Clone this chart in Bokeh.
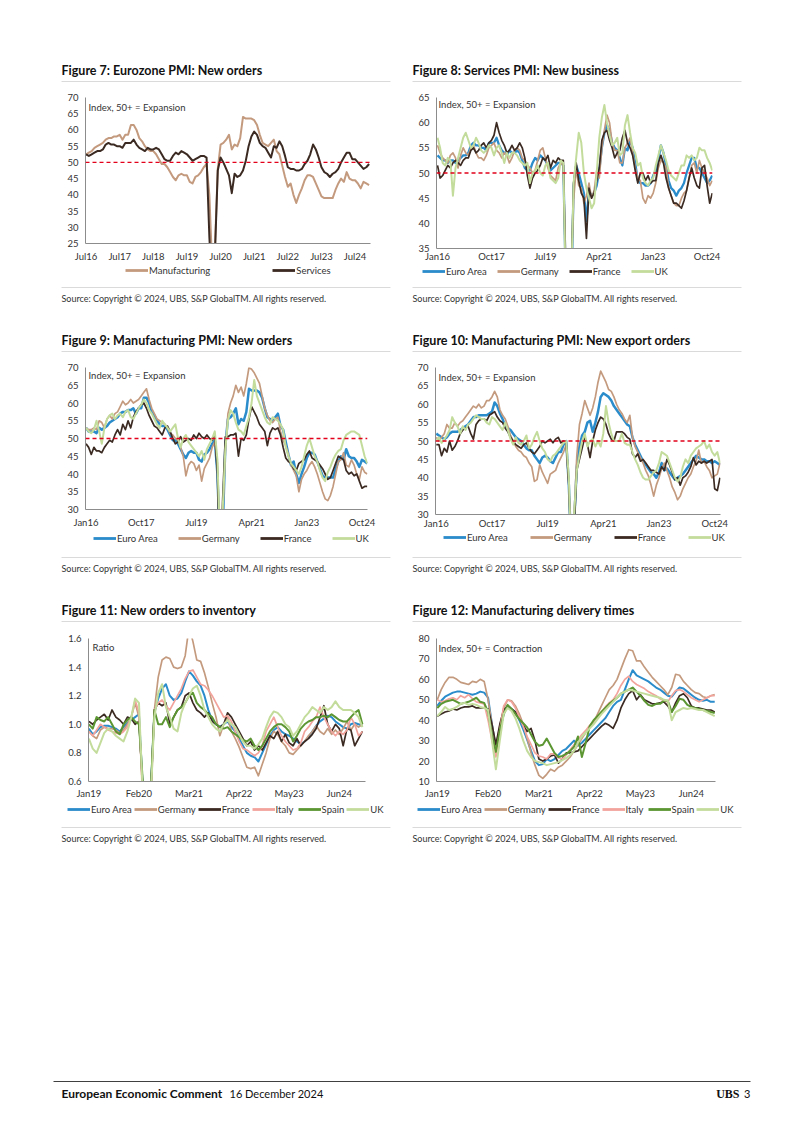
from bokeh.plotting import figure
from bokeh.models import (Range1d, FixedTicker, Span, Legend, LegendItem, Label,
                          NumeralTickFormatter, Spacer)
from bokeh.layouts import column, row
from bokeh.embed import file_html
from bokeh.resources import INLINE
from bokeh.core.properties import value

FONT = "Lato"

# ---------------- tick labels ----------------
fig7_ticks = [0, 12, 24, 36, 48, 60, 72, 84, 96]
fig7_labels = ["Jul16", "Jul17", "Jul18", "Jul19", "Jul20", "Jul21", "Jul22", "Jul23", "Jul24"]
pmi_ticks = [0, 21, 42, 63, 84, 105]
pmi_labels = ["Jan16", "Oct17", "Jul19", "Apr21", "Jan23", "Oct24"]
ratio_ticks = [0, 13, 26, 39, 52, 65]
ratio_labels = ["Jan19", "Feb20", "Mar21", "Apr22", "May23", "Jun24"]

# ---------------- Figure 8: Services PMI new business (Jan16-Dec24) ----------------
svc_ea = [53.5, 53.0, 52.5, 52.5, 52.0, 52.5, 52.5, 52.0, 52.5, 53.0, 53.5, 53.5,
          54.0, 55.5, 56.0, 55.5, 55.5, 55.0, 55.0, 54.5, 56.0, 56.0, 56.0, 57.0,
          55.5, 54.5, 54.0, 53.5, 54.5, 54.0, 54.0, 54.5, 54.0, 52.5, 51.0, 50.5,
          50.5, 52.0, 53.0, 52.5, 53.5, 53.0, 52.5, 51.5, 50.5, 51.0, 51.5, 52.0,
          52.0, 51.5, 27.0, 10.0, 22.0, 47.5, 51.5, 50.0, 48.0, 46.0, 40.5, 46.5,
          45.5, 46.0, 47.5, 50.5, 55.0, 58.0, 59.5, 58.5, 56.0, 55.0, 54.5, 53.0,
          51.5, 55.0, 54.5, 56.5, 55.0, 52.0, 48.5, 48.0, 48.0, 47.5, 47.5, 48.0,
          49.5, 50.5, 52.5, 55.5, 54.0, 51.5, 48.5, 47.0, 46.5, 45.5, 46.5, 47.0,
          48.0, 50.0, 51.5, 53.0, 53.0, 51.0, 51.0, 50.0, 49.0, 48.0, 48.5, 49.5]
svc_de = [55.5, 54.0, 53.0, 52.5, 52.0, 53.5, 54.0, 53.0, 51.0, 53.5, 55.0, 54.0,
          53.5, 55.0, 55.5, 54.0, 53.0, 53.0, 52.5, 53.5, 55.0, 55.5, 56.0, 54.5,
          54.0, 53.0, 54.0, 53.5, 52.0, 53.0, 54.5, 55.0, 54.5, 53.0, 52.5, 51.5,
          51.0, 50.0, 50.5, 52.5, 54.5, 55.0, 53.0, 51.0, 49.5, 49.0, 48.5, 51.0,
          52.0, 51.5, 31.0, 14.0, 28.0, 44.5, 51.0, 47.5, 47.0, 44.0, 45.5, 48.0,
          45.0, 46.5, 50.5, 49.0, 55.0, 58.5, 61.5, 60.0, 56.0, 54.5, 54.5, 52.0,
          52.0, 55.0, 56.0, 57.0, 54.0, 51.0, 49.0, 48.5, 45.0, 44.0, 45.5, 45.0,
          46.0, 48.0, 51.0, 52.5, 52.0, 51.0, 47.0, 45.5, 44.0, 43.5, 43.5, 45.0,
          46.0, 46.5, 49.0, 51.5, 52.0, 50.0, 52.5, 51.0, 50.0, 49.0, 47.5, 48.5]
svc_fr = [51.5, 49.0, 49.5, 50.5, 51.5, 51.0, 52.0, 52.5, 52.0, 51.5, 52.5, 53.0,
          53.0, 54.5, 55.0, 54.0, 54.5, 55.5, 56.0, 55.0, 56.0, 56.5, 57.5, 60.0,
          58.0, 56.5, 55.5, 54.0, 54.5, 55.5, 54.5, 55.0, 56.0, 55.0, 53.0, 49.5,
          47.0, 49.0, 50.0, 50.5, 51.5, 53.0, 52.5, 53.5, 51.0, 52.5, 52.0, 53.0,
          52.5, 52.5, 27.0, 9.0, 28.0, 48.0, 52.0, 48.5, 46.0, 45.0, 37.0, 47.0,
          45.0, 46.0, 48.5, 51.0, 56.5, 58.0, 58.5, 56.5, 55.0, 53.0, 54.0, 54.5,
          57.0, 58.5, 56.0, 55.0, 53.5, 50.5, 48.0, 50.0, 50.0, 48.5, 49.5, 48.0,
          48.5, 48.5, 52.0, 53.5, 52.0, 49.0, 47.0, 45.5, 44.0, 44.0, 43.5, 43.0,
          44.5, 46.5, 49.0, 51.0, 49.0, 47.5, 47.0, 51.0, 51.5, 47.5, 44.0, 46.0]
svc_uk = [57.0, 55.0, 52.0, 51.5, 53.0, 52.5, 45.5, 51.0, 53.0, 55.0, 57.0, 58.0,
          56.5, 55.0, 55.5, 57.0, 56.0, 54.5, 54.0, 54.5, 55.5, 55.0, 53.5, 55.0,
          55.5, 54.0, 52.0, 54.0, 53.0, 54.0, 54.0, 53.5, 52.5, 52.0, 51.5, 52.0,
          48.0, 50.0, 50.5, 51.5, 50.0, 49.5, 51.5, 52.0, 49.0, 48.5, 48.0, 49.0,
          52.5, 52.0, 25.0, 12.0, 26.0, 48.0, 53.0, 58.0, 56.0, 50.0, 47.0, 45.0,
          43.0, 44.0, 50.0, 57.0, 61.0, 63.5, 60.0, 57.5, 55.5, 56.0, 57.0, 53.5,
          54.0, 59.5, 61.5, 58.0, 55.0, 54.0, 51.5, 52.0, 49.0, 48.0, 47.5, 48.5,
          49.0, 51.5, 53.5, 55.5, 54.0, 52.5, 50.5, 49.5, 49.0, 48.5, 50.0, 51.5,
          51.5, 53.5, 53.0, 53.5, 52.5, 53.0, 55.0, 54.5, 54.5, 53.0, 52.0, 50.5]

# ---------------- Figure 9: Manufacturing PMI new orders (Jan16-Dec24) ----------------
mfg_ea = [53.0, 52.0, 52.0, 52.0, 51.5, 53.0, 52.5, 53.0, 53.5, 54.5, 55.0, 55.5,
          56.0, 57.0, 57.5, 57.5, 58.0, 58.0, 58.5, 57.0, 58.5, 58.5, 61.5, 61.5,
          60.0, 57.5, 56.5, 55.0, 54.0, 53.5, 53.5, 52.5, 51.0, 49.5, 49.5, 48.5,
          47.0, 45.5, 44.5, 46.0, 46.5, 46.0, 46.0, 44.0, 43.5, 45.5, 46.0, 47.0,
          48.5, 49.5, 40.0, 18.0, 24.0, 48.0, 55.5, 56.0, 57.0, 58.5, 54.0, 55.5,
          55.0, 57.5, 64.0, 63.5, 63.5, 63.5, 63.0, 61.5, 58.5, 56.0, 55.5, 55.0,
          56.0, 57.0, 53.5, 52.5, 49.0, 45.5, 42.5, 43.5, 40.0, 37.5, 40.0, 42.0,
          44.5, 46.0, 46.0, 45.5, 43.5, 41.5, 39.5, 39.0, 39.0, 39.0, 39.0, 41.5,
          43.5, 45.0, 44.0, 47.0, 45.0, 44.5, 44.5, 43.5, 42.0, 44.0, 43.5, 43.0]
mfg_de = [53.0, 52.5, 52.5, 53.0, 52.5, 55.0, 54.5, 53.0, 55.5, 56.5, 55.5, 57.0,
          57.5, 59.0, 60.5, 59.5, 60.0, 61.0, 60.0, 60.5, 61.0, 62.0, 63.0, 64.0,
          61.0, 58.5, 57.0, 55.5, 55.0, 54.5, 54.0, 53.0, 51.5, 51.0, 50.0, 49.5,
          47.5, 45.0, 39.5, 42.5, 43.5, 43.0, 41.0, 42.5, 38.0, 41.5, 43.0, 44.5,
          47.5, 49.0, 43.0, 18.0, 28.0, 46.0, 57.0, 60.0, 62.0, 65.0, 63.0, 64.5,
          62.0, 65.5, 70.0, 69.5, 68.5, 67.0, 65.5, 62.0, 58.5, 56.5, 55.0, 54.5,
          55.5, 56.0, 52.0, 49.5, 48.0, 45.5, 42.5, 41.0, 39.5, 35.0, 38.5, 40.0,
          41.0, 42.5, 43.5, 42.0, 40.0, 37.5, 35.0, 33.0, 32.5, 34.0, 36.5, 40.0,
          43.5, 44.0, 46.0, 42.5, 42.0, 44.0, 42.5, 40.0, 38.5, 42.0, 40.5, 40.0]
mfg_fr = [48.5, 47.5, 45.5, 47.5, 46.5, 46.5, 46.0, 47.5, 48.5, 49.5, 49.0, 51.0,
          52.5, 51.0, 54.0, 52.5, 55.0, 53.0, 56.0, 57.5, 58.5, 59.5, 60.0, 58.5,
          56.5, 55.0, 53.5, 53.0, 52.0, 51.0, 53.0, 53.5, 52.0, 50.0, 48.5, 49.0,
          50.5, 49.0, 49.5, 50.0, 49.5, 51.0, 50.0, 51.5, 50.5, 50.0, 51.0, 50.0,
          49.5, 51.0, 40.0, 10.0, 33.0, 50.5, 50.5, 51.0, 51.0, 51.5, 45.0, 50.0,
          49.5, 51.0, 55.5, 59.0, 57.5, 56.0, 54.0, 53.0, 52.0, 48.0, 51.5, 53.0,
          52.5, 53.0, 51.0, 47.5, 44.5, 43.5, 43.0, 41.5, 41.0, 43.0, 43.5, 44.0,
          45.5, 46.5, 44.5, 44.0, 43.5, 42.5, 41.5, 40.0, 38.5, 39.0, 41.0, 43.0,
          45.0, 44.5, 44.0, 41.0, 40.0, 40.5, 39.5, 40.0, 38.0, 36.0, 36.5, 36.5]
mfg_uk = [53.0, 52.0, 51.5, 52.5, 55.0, 52.0, 48.5, 53.0, 55.5, 56.5, 57.0, 55.5,
          56.5, 57.0, 56.0, 57.5, 58.0, 56.0, 55.5, 57.0, 58.5, 59.5, 61.0, 60.0,
          58.0, 57.0, 55.5, 54.0, 53.0, 55.0, 54.0, 53.0, 52.0, 53.0, 54.0, 50.0,
          47.5, 50.0, 51.0, 49.0, 48.0, 47.0, 46.0, 45.0, 46.5, 44.0, 47.0, 48.5,
          50.0, 52.0, 44.0, 20.0, 30.0, 47.0, 55.0, 58.0, 57.0, 54.5, 52.5, 52.0,
          51.0, 53.5, 56.0, 60.0, 66.5, 62.0, 60.0, 58.0, 56.0, 54.5, 54.0, 56.0,
          55.5, 55.0, 54.0, 52.5, 47.5, 45.0, 43.0, 42.0, 41.0, 40.0, 42.0, 45.0,
          48.0, 50.0, 47.5, 45.0, 43.5, 41.0, 39.0, 38.0, 40.5, 42.0, 44.0, 45.5,
          46.5, 47.0, 49.5, 51.0, 51.5, 52.0, 52.0, 51.5, 51.0, 48.0, 45.0, 43.0]

# ---------------- Figure 10: Manufacturing PMI new export orders (Jan16-Dec24) ----------------
exp_ea = [52.0, 51.5, 51.0, 50.5, 51.0, 52.0, 52.5, 52.5, 52.5, 53.0, 53.5, 54.0,
          54.5, 55.5, 56.5, 56.5, 57.0, 57.0, 57.0, 57.0, 57.5, 58.0, 60.5, 59.5,
          57.5, 56.0, 54.0, 53.5, 53.0, 52.0, 51.0, 50.5, 50.0, 49.0, 48.0, 47.5,
          47.5, 46.0, 45.0, 44.0, 45.5, 46.0, 45.5, 44.5, 44.0, 45.5, 47.0, 47.0,
          49.0, 50.0, 38.0, 18.0, 28.0, 43.0, 48.5, 51.5, 52.5, 55.0, 55.5, 52.5,
          55.0, 58.0, 62.0, 63.0, 62.5, 62.0, 61.0, 59.5, 58.5, 57.5, 56.5, 55.5,
          54.5, 54.0, 51.0, 49.0, 47.5, 46.0, 44.5, 43.5, 42.5, 41.5, 41.0, 40.0,
          41.5, 44.0, 42.0, 42.5, 41.5, 40.5, 39.5, 40.0, 40.5, 41.0, 42.0, 43.0,
          44.0, 45.0, 46.0, 45.5, 45.0, 45.0, 44.5, 44.5, 44.0, 44.5, 44.0, 43.5]
exp_de = [51.0, 50.0, 51.0, 52.0, 54.5, 53.5, 53.5, 55.0, 54.0, 55.0, 55.5, 56.5,
          57.5, 58.5, 59.5, 59.0, 60.0, 59.0, 59.5, 61.0, 61.0, 62.0, 63.5, 62.0,
          58.5, 57.0, 56.0, 54.0, 51.5, 50.0, 48.5, 47.5, 47.0, 46.0, 45.5, 44.0,
          43.0, 39.0, 39.5, 43.5, 41.5, 40.0, 38.5, 41.0, 41.5, 42.0, 44.0, 45.5,
          47.0, 49.0, 38.0, 20.0, 30.0, 46.0, 54.5, 57.5, 61.0, 59.0, 57.0, 59.0,
          62.0, 66.0, 69.0, 67.5, 66.0, 64.0, 63.5, 62.0, 60.0, 58.5, 57.5, 56.0,
          55.0, 57.0, 51.0, 48.5, 47.0, 45.5, 44.0, 42.0, 40.5, 38.0, 35.0, 38.0,
          40.0, 42.5, 44.0, 42.0, 40.0, 37.5, 36.0, 34.0, 35.0, 37.0, 38.5, 40.0,
          41.0, 43.0, 44.5, 47.5, 44.0, 44.5, 43.0, 42.0, 40.0, 40.5, 41.0, 44.0]
exp_fr = [49.0, 49.0, 46.0, 48.0, 47.0, 50.0, 47.5, 48.5, 50.0, 52.0, 53.0, 53.5,
          54.0, 52.0, 50.5, 54.5, 55.5, 56.0, 56.0, 55.5, 57.0, 57.5, 58.0, 56.5,
          55.5, 55.0, 53.5, 52.5, 51.0, 50.0, 49.0, 48.5, 48.0, 49.0, 49.5, 48.0,
          47.0, 46.5, 47.5, 48.5, 50.0, 49.5, 50.0, 50.5, 49.5, 50.5, 51.0, 49.5,
          50.0, 49.5, 38.0, 15.0, 26.0, 42.0, 45.0, 48.0, 51.0, 49.0, 45.5, 50.0,
          53.0, 55.0, 56.5, 56.0, 54.5, 52.0, 50.5, 50.0, 52.5, 52.5, 52.5, 52.0,
          51.0, 50.5, 46.5, 45.5, 46.5, 44.5, 45.0, 44.0, 43.0, 42.0, 42.0, 41.5,
          41.0, 43.0, 42.0, 45.0, 43.5, 41.5, 39.5, 40.0, 38.0, 40.0, 40.5, 41.5,
          43.0, 45.5, 43.5, 44.5, 44.0, 44.5, 44.0, 44.5, 45.0, 37.0, 36.5, 40.0]
exp_uk = [50.0, 51.0, 49.5, 50.5, 51.5, 53.0, 56.5, 55.0, 54.0, 52.0, 54.0, 53.0,
          54.5, 55.0, 56.0, 57.0, 56.5, 56.0, 56.0, 55.0, 54.5, 56.5, 56.0, 55.0,
          54.0, 53.0, 55.0, 53.0, 50.5, 49.0, 51.0, 49.5, 49.0, 50.0, 51.5, 48.0,
          49.0, 51.0, 52.5, 50.0, 48.0, 47.0, 45.0, 44.5, 46.0, 46.5, 47.5, 48.5,
          49.5, 50.0, 40.0, 15.0, 30.0, 42.0, 46.0, 50.0, 52.0, 48.5, 50.0, 50.5,
          48.5, 50.0, 48.5, 52.0, 59.5, 55.0, 52.0, 50.0, 50.0, 50.0, 52.0, 49.5,
          49.0, 49.0, 47.0, 45.0, 43.5, 41.5, 40.0, 39.5, 39.5, 40.5, 41.5, 42.0,
          44.0, 47.0, 46.5, 46.0, 44.0, 42.0, 40.0, 39.0, 40.0, 43.0, 45.0, 44.0,
          46.0, 47.0, 48.0, 48.5, 49.0, 50.0, 48.0, 49.0, 47.0, 46.0, 47.0, 44.0]

# ---------------- Figure 7: Eurozone new orders (Jul16-Dec24) ----------------
ez_manufacturing = mfg_ea[6:]
ez_services = svc_ea[6:]

# ---------------- Figure 11: New orders to inventory ratio (Jan19-Dec24) ----------------
inv_ea = [0.97, 0.93, 0.95, 0.98, 0.99, 0.99, 0.98, 0.97, 0.95, 0.98, 1.01, 1.03,
          1.05, 1.07, 0.55, 0.30, 0.50, 1.08, 1.18, 1.25, 1.28, 1.20, 1.17, 1.18,
          1.22, 1.30, 1.37, 1.34, 1.30, 1.27, 1.20, 1.10, 1.03, 1.00, 0.98, 1.00,
          1.02, 0.98, 0.95, 0.90, 0.85, 0.80, 0.78, 0.77, 0.74, 0.80, 0.86, 0.92,
          0.96, 0.98, 0.95, 0.93, 0.92, 0.90, 0.88, 0.86, 0.88, 0.91, 0.95, 0.99,
          1.02, 1.04, 1.06, 1.05, 1.02, 1.00, 0.98, 0.97, 1.00, 1.01, 1.00, 0.99]
inv_de = [0.95, 0.92, 0.90, 0.96, 0.98, 0.97, 0.97, 0.96, 0.94, 0.96, 1.00, 1.05,
          1.15, 1.05, 0.50, 0.25, 0.45, 1.10, 1.33, 1.45, 1.47, 1.46, 1.40, 1.39,
          1.40, 1.48, 1.68, 1.58, 1.45, 1.44, 1.36, 1.26, 1.15, 1.05, 0.92, 1.00,
          1.05, 0.95, 0.90, 0.84, 0.77, 0.70, 0.69, 0.70, 0.64, 0.72, 0.80, 0.90,
          0.95, 0.93, 0.88, 0.85, 0.80, 0.79, 0.82, 0.85, 0.88, 0.92, 0.95, 0.99,
          0.95, 0.93, 0.97, 0.93, 0.96, 0.93, 0.97, 1.02, 0.96, 1.00, 0.98, 1.00]
inv_fr = [1.02, 1.00, 1.03, 1.05, 1.07, 1.03, 1.10, 1.05, 1.03, 1.00, 1.05, 1.04,
          1.00, 1.02, 0.55, 0.30, 0.50, 1.10, 1.15, 1.13, 1.15, 1.00, 1.05, 1.10,
          1.12, 1.20, 1.22, 1.15, 1.10, 1.08, 1.05, 1.08, 1.02, 1.00, 0.98, 1.00,
          1.08, 1.05, 1.00, 0.95, 0.90, 0.85, 0.88, 0.82, 0.85, 0.82, 0.87, 0.92,
          0.90, 0.95, 0.88, 0.93, 0.87, 0.85, 0.90, 0.85, 0.88, 0.90, 0.93, 0.97,
          1.05, 1.13, 1.00, 0.95, 1.00, 0.97, 0.85, 0.97, 0.96, 0.85, 0.90, 0.95]
inv_it = [0.95, 0.92, 0.96, 1.00, 0.98, 0.96, 0.95, 0.94, 0.93, 0.95, 0.98, 1.05,
          1.17, 1.08, 0.45, 0.20, 0.40, 1.10, 1.15, 1.17, 1.13, 1.10, 1.15, 1.20,
          1.25, 1.32, 1.37, 1.38, 1.33, 1.28, 1.27, 1.24, 1.20, 1.15, 1.10, 1.05,
          1.06, 1.02, 0.95, 0.88, 0.83, 0.82, 0.80, 0.78, 0.80, 0.85, 0.95, 1.00,
          1.05, 0.98, 0.92, 0.88, 0.85, 0.82, 0.83, 0.87, 0.95, 0.98, 1.02, 1.05,
          1.12, 1.05, 1.00, 0.95, 0.92, 0.95, 0.93, 0.96, 1.05, 1.00, 0.92, 0.95]
inv_es = [1.00, 0.97, 1.05, 1.03, 1.02, 1.05, 1.00, 0.95, 0.93, 1.00, 1.03, 1.05,
          1.02, 1.00, 0.60, 0.35, 0.50, 1.10, 1.00, 1.00, 1.05, 0.98, 1.05, 1.10,
          1.12, 1.15, 1.20, 1.22, 1.15, 1.12, 1.10, 1.07, 1.05, 1.00, 0.98, 0.97,
          0.98, 0.95, 0.93, 0.91, 0.89, 0.88, 0.90, 0.85, 0.82, 0.85, 0.90, 0.95,
          0.98, 1.00, 1.00, 0.98, 0.95, 0.88, 0.92, 0.97, 1.00, 1.02, 1.03, 1.05,
          1.05, 1.06, 1.05, 1.07, 1.05, 1.03, 1.02, 1.02, 1.05, 1.08, 1.10, 1.00]
inv_uk = [0.90, 0.83, 0.80, 0.87, 0.94, 0.97, 0.95, 0.92, 0.90, 0.88, 0.95, 1.05,
          1.18, 1.15, 0.50, 0.30, 0.45, 1.05, 1.22, 1.28, 1.12, 1.05, 0.97, 0.95,
          1.08, 1.15, 1.20, 1.25, 1.27, 1.20, 1.10, 1.05, 1.00, 0.97, 0.95, 1.00,
          1.03, 1.00, 0.98, 0.93, 0.88, 0.85, 0.85, 0.83, 0.86, 0.90, 0.98, 1.05,
          1.09, 1.08, 1.05, 1.00, 0.98, 0.92, 0.95, 1.00, 1.05, 1.08, 1.12, 1.10,
          1.08, 1.12, 1.10, 1.12, 1.16, 1.12, 1.10, 1.10, 1.10, 1.08, 1.05, 0.98]

# ---------------- Figure 12: Manufacturing delivery times (Jan19-Dec24) ----------------
dlv_ea = [47.0, 49.5, 51.5, 52.5, 53.5, 54.0, 54.0, 53.5, 53.0, 52.5, 53.0, 54.0,
          53.5, 51.0, 38.0, 26.0, 35.0, 43.0, 47.0, 45.5, 44.0, 40.0, 35.5, 30.5,
          25.0, 20.0, 18.0, 18.5, 21.0, 20.0, 21.0, 23.0, 25.0, 26.0, 28.0, 30.0,
          27.5, 29.0, 31.0, 33.0, 35.0, 37.0, 39.0, 41.0, 44.0, 47.0, 49.0, 50.0,
          55.0, 60.0, 64.5, 62.0, 61.0, 60.0, 59.0, 57.5, 56.0, 55.0, 53.5, 52.0,
          51.5, 54.0, 56.0, 55.5, 54.0, 52.5, 51.0, 50.0, 49.5, 50.0, 49.0, 49.0]
dlv_de = [50.0, 55.0, 58.5, 61.0, 61.0, 60.0, 58.5, 58.0, 57.5, 59.0, 58.5, 60.0,
          59.0, 50.0, 38.0, 27.0, 37.0, 46.0, 50.0, 49.5, 47.0, 43.0, 38.0, 31.0,
          24.0, 18.0, 13.0, 11.5, 13.5, 16.0, 15.0, 17.0, 18.0, 20.0, 22.0, 25.0,
          28.0, 31.0, 34.0, 36.5, 39.0, 43.0, 47.0, 51.0, 55.0, 57.0, 60.0, 65.0,
          70.0, 74.5, 74.0, 69.0, 69.0, 66.0, 63.5, 61.0, 59.0, 57.0, 55.0, 52.5,
          56.0, 62.5, 62.0, 59.0, 57.0, 55.0, 53.5, 53.0, 51.5, 51.0, 52.0, 52.5]
dlv_fr = [42.0, 43.0, 44.0, 44.5, 45.5, 45.0, 46.0, 46.5, 46.5, 47.0, 46.0, 46.0,
          46.0, 45.5, 38.0, 28.0, 38.0, 45.0, 47.0, 45.5, 44.0, 41.0, 37.5, 34.5,
          36.0, 30.0, 21.0, 20.0, 21.0, 22.5, 23.0, 19.0, 21.0, 24.0, 24.0, 24.5,
          25.0, 27.0, 29.0, 31.0, 33.0, 35.0, 37.0, 38.5, 37.5, 36.0, 40.0, 46.0,
          50.0, 53.0, 54.5, 50.0, 52.5, 50.0, 49.0, 48.0, 48.0, 48.5, 49.0, 47.0,
          44.0, 48.5, 52.0, 53.0, 51.0, 47.0, 46.0, 46.0, 45.5, 45.0, 45.0, 44.0]
dlv_it = [50.0, 49.0, 49.5, 50.5, 51.0, 50.0, 52.0, 51.0, 52.5, 50.5, 49.0, 48.5,
          48.0, 40.0, 30.0, 22.0, 35.0, 47.0, 50.0, 49.0, 46.0, 41.5, 37.0, 32.0,
          28.0, 24.0, 22.5, 22.0, 21.0, 23.5, 23.5, 21.5, 21.0, 23.0, 25.5, 28.0,
          30.5, 33.0, 35.0, 37.5, 39.5, 41.5, 44.0, 46.5, 48.5, 50.0, 53.0, 57.0,
          60.0, 61.5, 59.0, 57.5, 56.5, 55.5, 54.0, 53.0, 52.0, 50.5, 49.5, 49.0,
          52.0, 54.5, 55.0, 54.0, 52.5, 51.0, 50.0, 49.0, 50.0, 51.0, 52.0, 52.0]
dlv_es = [46.0, 48.0, 49.0, 49.5, 50.0, 49.0, 48.0, 48.5, 49.0, 50.0, 51.0, 49.0,
          48.5, 44.0, 33.0, 24.5, 35.0, 43.0, 47.5, 45.5, 43.0, 40.5, 38.5, 36.5,
          33.0, 29.5, 27.5, 28.0, 31.0, 27.5, 24.0, 22.0, 22.5, 23.5, 25.0, 27.0,
          32.0, 22.0, 29.0, 37.0, 40.0, 42.0, 44.0, 46.0, 48.0, 49.5, 51.0, 53.0,
          54.0, 55.0, 56.0, 54.0, 52.0, 49.5, 47.5, 47.0, 48.0, 48.0, 49.5, 49.5,
          44.0, 47.0, 50.5, 50.0, 47.5, 46.5, 46.0, 45.5, 45.0, 44.5, 44.0, 43.5]
dlv_uk = [42.0, 44.0, 46.5, 45.0, 45.5, 46.5, 48.0, 48.5, 47.5, 48.0, 47.5, 46.5,
          46.0, 45.0, 30.0, 16.0, 30.0, 43.0, 46.0, 44.5, 41.0, 36.0, 30.0, 25.0,
          22.0, 20.0, 19.5, 19.0, 18.0, 18.5, 19.0, 19.5, 20.5, 21.5, 23.0, 25.0,
          29.0, 32.0, 34.0, 36.0, 38.0, 40.5, 43.0, 45.0, 47.0, 49.0, 51.0, 53.0,
          54.0, 55.0, 54.5, 54.0, 53.5, 53.0, 52.5, 52.0, 51.5, 51.0, 50.0, 49.5,
          40.0, 44.0, 45.0, 46.0, 45.5, 46.0, 45.5, 45.0, 45.0, 44.0, 43.0, 42.0]

# ---------------- styling ----------------
BLUE = "#2B8CCB"
TAN = "#C49A7E"
DARK = "#3B2A22"
LGREEN = "#C3DC9C"
PINK = "#F2A49C"
GREEN = "#5B9632"
RED = "#E2001A"
SEP = "#DADADA"

# series: (legend name, values, colour, width)
fig7_series = [("Manufacturing", ez_manufacturing, TAN, 2.0), ("Services", ez_services, DARK, 2.0)]
fig8_series = [("Euro Area", svc_ea, BLUE, 2.3), ("Germany", svc_de, TAN, 1.7),
               ("France", svc_fr, DARK, 1.7), ("UK", svc_uk, LGREEN, 2.0)]
fig9_series = [("Euro Area", mfg_ea, BLUE, 2.5), ("Germany", mfg_de, TAN, 1.7),
               ("France", mfg_fr, DARK, 1.7), ("UK", mfg_uk, LGREEN, 2.0)]
fig10_series = [("Euro Area", exp_ea, BLUE, 2.5), ("Germany", exp_de, TAN, 1.7),
                ("France", exp_fr, DARK, 1.7), ("UK", exp_uk, LGREEN, 2.0)]
fig11_series = [("Euro Area", inv_ea, BLUE, 2.0), ("Germany", inv_de, TAN, 1.7),
                ("France", inv_fr, DARK, 1.7), ("Italy", inv_it, PINK, 1.7),
                ("Spain", inv_es, GREEN, 2.0), ("UK", inv_uk, LGREEN, 2.0)]
fig12_series = [("Euro Area", dlv_ea, BLUE, 2.0), ("Germany", dlv_de, TAN, 1.7),
                ("France", dlv_fr, DARK, 1.7), ("Italy", dlv_it, PINK, 1.7),
                ("Spain", dlv_es, GREEN, 2.0), ("UK", dlv_uk, LGREEN, 2.0)]


def make_chart(bl, fw, br, bt, fh, bb, xr, yr, yticks, xticks, xlabels, series,
               note, note_dx, note_dy, x_standoff, yfmt=None, red50=True):
    p = figure(frame_width=fw, frame_height=fh, x_range=Range1d(*xr), y_range=Range1d(*yr),
               output_backend="svg", toolbar_location=None,
               min_border_left=bl, min_border_right=br,
               min_border_top=bt, min_border_bottom=bb)
    p.outline_line_color = None
    p.xgrid.visible = False
    p.ygrid.visible = False
    for ax in (p.xaxis[0], p.yaxis[0]):
        ax.axis_line_color = "#8C8C8C"
        ax.axis_line_width = 1
        ax.major_tick_line_color = None
        ax.minor_tick_line_color = None
        ax.major_tick_out = 0
        ax.major_tick_in = 0
        ax.minor_tick_out = 0
        ax.minor_tick_in = 0
        ax.major_label_text_font = FONT
        ax.major_label_text_font_size = "9.5px"
        ax.major_label_text_color = "#333333"
    p.yaxis.ticker = FixedTicker(ticks=yticks)
    p.yaxis.major_label_standoff = 7
    if yfmt:
        p.yaxis.formatter = NumeralTickFormatter(format=yfmt)
    p.xaxis.ticker = FixedTicker(ticks=xticks)
    p.xaxis.major_label_overrides = {t: s for t, s in zip(xticks, xlabels)}
    p.xaxis.major_label_standoff = x_standoff
    if red50:
        p.add_layout(Span(location=50, dimension="width", line_color=RED,
                          line_dash="4 3", line_width=1.3))
    for name, vals, color, lw in series:
        p.line(list(range(len(vals))), vals, line_color=color, line_width=lw,
               line_join="round")
    p.add_layout(Label(x=note_dx, y=fh - note_dy, x_units="screen", y_units="screen",
                       text=note, text_font=FONT, text_font_size="9.5px",
                       text_color="#333333", text_baseline="middle"))
    return p


def band(h, texts, lines, legends=()):
    p = figure(width=794, height=h, x_range=Range1d(0, 794), y_range=Range1d(0, h),
               output_backend="svg", toolbar_location=None,
               x_axis_location=None, y_axis_location=None, min_border=0)
    p.outline_line_color = None
    p.xgrid.visible = False
    p.ygrid.visible = False
    for x0, x1, y, color, lw in lines:
        p.segment(x0=[x0], x1=[x1], y0=[y], y1=[y], line_color=color, line_width=lw)
    for x, y, t, size, style, color, align, font in texts:
        p.text(x=[x], y=[y], text=[t], text_font=value(font), text_font_size=size,
               text_font_style=style, text_color=color, text_baseline="middle",
               text_align=align)
    for lx, ly, series, spacing in legends:
        items = []
        for name, vals, color, lw in series:
            # hidden copy of the series: only supplies the legend swatch
            r = p.line(list(range(len(vals))), vals, line_color=color,
                       line_width=2.8, visible=False)
            items.append(LegendItem(label=name, renderers=[r]))
        leg = Legend(items=items, orientation="horizontal", location=(lx, ly),
                     glyph_width=23, glyph_height=12, label_height=12, label_standoff=1,
                     spacing=spacing, padding=0, margin=0,
                     label_text_font=FONT, label_text_font_size="9.5px",
                     label_text_color="#333333", inactive_fill_alpha=0,
                     border_line_color=None, background_fill_alpha=0)
        p.add_layout(leg)
    return p


SRC = "Source: Copyright \u00a9 2024, UBS, S&P GlobalTM. All rights reserved."


def header(t1, t2):
    return band(33, [(61, 18, t1, "12.5px", "bold", "#111111", "left", FONT),
                     (412, 18, t2, "12.5px", "bold", "#111111", "left", FONT)],
                [(61, 390, 7, SEP, 1), (412, 741, 7, SEP, 1)])


def legend_footer(h, legends):
    return band(h, [(61, 27.5, SRC, "9px", "normal", "#333333", "left", FONT),
                    (412, 27.5, SRC, "9px", "normal", "#333333", "left", FONT)],
                [(61, 390, 38, SEP, 1), (412, 741, 38, SEP, 1)], legends)


expansion = "Index, 50+ = Expansion"

# Row 1: charts page y 88..264
f7 = make_chart(85, 285, 30, 8, 146, 22, (-0.2, 101.5), (25, 70),
                [25, 30, 35, 40, 45, 50, 55, 60, 65, 70], fig7_ticks, fig7_labels,
                fig7_series, expansion, 3, 10, 7)
f8 = make_chart(36, 276, 82, 9, 151, 16, (-0.4, 107.1), (35, 65),
                [35, 40, 45, 50, 55, 60, 65], pmi_ticks, pmi_labels,
                fig8_series, expansion, 2, 7, 2)
# Row 2: page y 358..531
f9 = make_chart(85, 282, 33, 9, 142, 22, (-0.2, 107.1), (30, 70),
                [30, 35, 40, 45, 50, 55, 60, 65, 70], pmi_ticks, pmi_labels,
                fig9_series, expansion, 3, 8, 7)
f10 = make_chart(35, 285, 74, 9, 147, 17, (-0.3, 107.2), (30, 70),
                 [30, 35, 40, 45, 50, 55, 60, 65, 70], pmi_ticks, pmi_labels,
                 fig10_series, expansion, 3, 10, 3)
# Row 3: page y 628..803
f11 = make_chart(88, 277, 35, 10, 143, 22, (-0.1, 71.8), (0.6, 1.6),
                 [0.6, 0.8, 1.0, 1.2, 1.4, 1.6], ratio_ticks, ratio_labels,
                 fig11_series, "Ratio", 4, 9, 6, yfmt="0.0", red50=False)
f12 = make_chart(36, 279, 79, 9, 143, 23, (-0.2, 71.2), (10, 80),
                 [10, 20, 30, 40, 50, 60, 70, 80], ratio_ticks, ratio_labels,
                 fig12_series, "Index, 50+ = Contraction", 2, 10, 6, red50=False)

lf1 = legend_footer(61, [(125, 49, fig7_series, 62), (422, 48, fig8_series, 10)])
lf2 = legend_footer(64, [(93, 51, fig9_series, 20), (443, 52, fig10_series, 22)])
lf3 = legend_footer(62, [(67, 50, fig11_series, 2), (417, 50, fig12_series, 2)])

page_footer = band(240,
                   [(61, 12, "European Economic Comment", "12px", "bold", "#111111", "left", FONT),
                    (229, 12, "16 December 2024", "11px", "normal", "#111111", "left", FONT),
                    (739, 12, "UBS", "12px", "bold", "#111111", "right", "Liberation Serif"),
                    (750, 12, "3", "11px", "normal", "#111111", "right", FONT)],
                   [(53, 750, 24, "#404040", 1)])

layout = column(
    Spacer(width=794, height=55),
    header("Figure 7: Eurozone PMI: New orders", "Figure 8: Services PMI: New business"),
    row(f7, f8),
    lf1,
    header("Figure 9: Manufacturing PMI: New orders", "Figure 10: Manufacturing PMI: New export orders"),
    row(f9, f10),
    lf2,
    header("Figure 11: New orders to inventory", "Figure 12: Manufacturing delivery times"),
    row(f11, f12),
    lf3,
    page_footer,
)

open("out.html", "w").write(file_html(layout, INLINE))
